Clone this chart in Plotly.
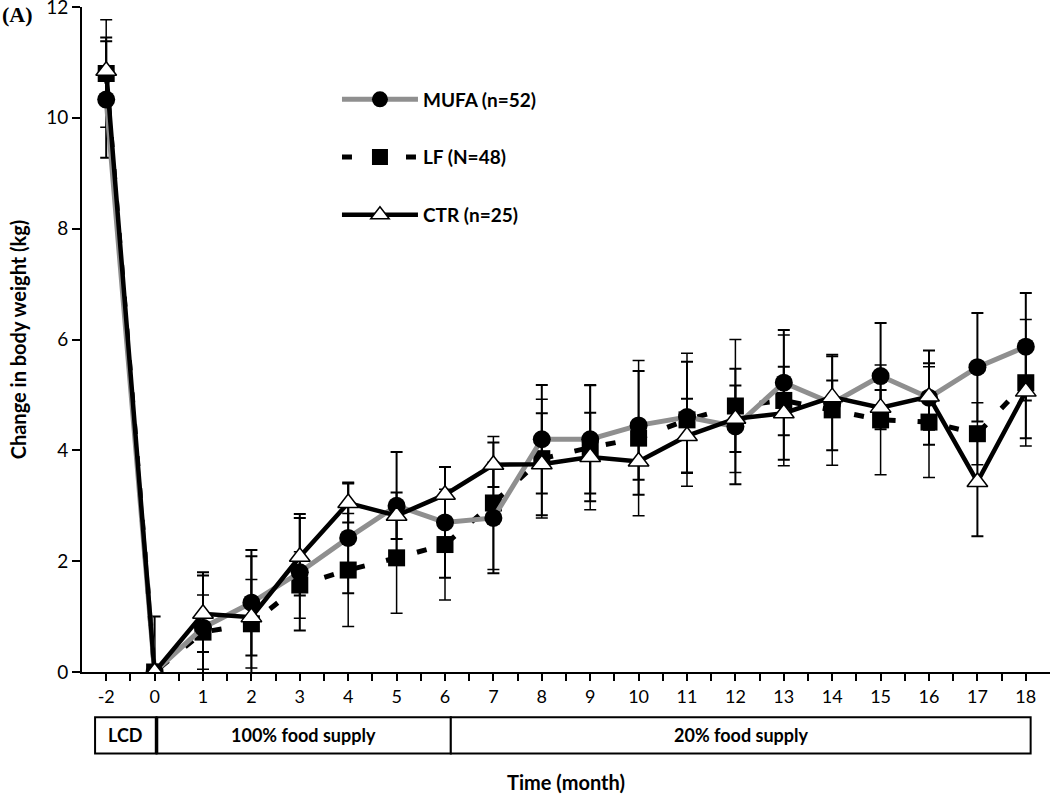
import plotly.graph_objects as go

months = ["-2", "0", "1", "2", "3", "4", "5", "6", "7", "8", "9",
          "10", "11", "12", "13", "14", "15", "16", "17", "18"]

mufa = [10.33, 0, 0.8, 1.25, 1.8, 2.42, 3.0, 2.7, 2.78, 4.2, 4.2,
        4.45, 4.6, 4.43, 5.22, 4.85, 5.34, 4.95, 5.5, 5.87]
mufa_err = [1.05, 1.0, 1.0, 0.95, 1.05, 1.0, 0.97, 1.0, 1.0, 0.98, 0.98,
            0.98, 1.0, 1.04, 0.95, 0.85, 0.96, 0.85, 0.98, 0.97]

lf = [10.8, 0, 0.72, 0.87, 1.57, 1.84, 2.06, 2.3, 3.05, 3.85, 4.05,
      4.22, 4.55, 4.8, 4.9, 4.73, 4.55, 4.51, 4.3, 5.22]
lf_err = [0.97, 0, 0.67, 0.8, 0.6, 1.02, 1.0, 1.0, 1.2, 1.07, 1.12,
          1.4, 1.2, 1.2, 1.18, 1.0, 0.99, 1.0, 0.56, 1.14]

ctr = [10.85, 0, 1.05, 0.99, 2.08, 3.05, 2.82, 3.2, 3.74, 3.75, 3.88,
       3.8, 4.26, 4.57, 4.67, 4.96, 4.77, 4.97, 3.43, 5.06]
ctr_err = [0.6, 0, 0.69, 1.1, 0.7, 0.35, 0.42, 0.5, 0.4, 0.92, 0.8,
           0.6, 0.67, 0.6, 0.84, 0.3, 0.32, 0.6, 0.98, 0.84]

y_ticks = [0, 2, 4, 6, 8, 10, 12]

x = list(range(len(months)))
FONT = "Lato, 'Open Sans', sans-serif"

fig = go.Figure()

fig.add_trace(go.Scatter(
    x=x, y=lf, name="LF (N=48)", mode="lines+markers", legendrank=2,
    legendgroup="lf",
    line=dict(color="black", width=5, dash="10px,22px"),
    marker=dict(symbol="square", size=17, color="black"),
    error_y=dict(type="data", array=lf_err, color="black", thickness=1.5, width=6),
))
fig.add_trace(go.Scatter(
    x=x, y=mufa, name="MUFA (n=52)", mode="lines+markers", legendrank=1,
    legendgroup="mufa",
    line=dict(color="#8f8f8f", width=5),
    marker=dict(symbol="circle", size=18, color="black"),
    error_y=dict(type="data", array=mufa_err, color="black", thickness=2, width=6),
))
fig.add_trace(go.Scatter(
    x=x, y=ctr, name="CTR (n=25)", mode="lines+markers", legendrank=3,
    legendgroup="ctr",
    line=dict(color="black", width=4.5),
    marker=dict(symbol="triangle-up", size=18, color="white",
                line=dict(color="black", width=1.5)),
    error_y=dict(type="data", array=ctr_err, color="black", thickness=2, width=6),
))

# phase boxes under the axis
box_top, box_bot = -0.068, -0.1225
phases = [(-0.23, 1.04, "LCD"), (1.04, 7.12, "100% food supply"),
          (7.12, 19.1, "20% food supply")]
for x0, x1, label in phases:
    fig.add_shape(type="rect", xref="x", yref="paper", x0=x0, x1=x1,
                  y0=box_bot, y1=box_top, line=dict(color="black", width=2),
                  fillcolor="white", layer="above")
    fig.add_annotation(x=(x0 + x1) / 2, y=(box_top + box_bot) / 2, xref="x",
                       yref="paper", xanchor="center", yanchor="middle",
                       text=f"<b>{label}</b>", showarrow=False,
                       font=dict(family=FONT, size=18, color="black"))
fig.add_shape(type="line", xref="x", yref="paper", x0=1.04, x1=1.04,
              y0=box_bot, y1=box_top, line=dict(color="black", width=3.5))

fig.add_annotation(x=0, y=1, xref="paper", yref="paper", xanchor="left",
                   yanchor="top", xshift=-82, yshift=7,
                   text="<b>(A)</b>", showarrow=False,
                   font=dict(family="Liberation Serif, serif", size=22, color="black"))

fig.update_layout(
    width=1050, height=795,
    margin=dict(l=82, r=0, t=7, b=123),
    paper_bgcolor="white", plot_bgcolor="white",
    font=dict(family=FONT, color="black", size=18),
    showlegend=True,
    legend=dict(x=0.2634, y=0.8895, xanchor="left", yanchor="top",
                bgcolor="rgba(0,0,0,0)", tracegroupgap=30, itemwidth=76,
                font=dict(family=FONT, size=19, color="black", weight="bold")),
    xaxis=dict(
        range=[-0.5, 19.5], tickmode="array", tickvals=x, ticktext=months,
        showline=True, linecolor="black", linewidth=2, showgrid=False,
        zeroline=False, ticks="outside", ticklen=7, tickwidth=2,
        tickcolor="black", tickfont=dict(size=18), automargin=False,
        minor=dict(tickmode="array", tickvals=[i + 0.5 for i in x[:-1]],
                   ticks="outside", ticklen=7, tickwidth=2, tickcolor="black"),
        title=dict(text="<b>Time (month)</b>", font=dict(size=20), standoff=70),
    ),
    yaxis=dict(
        range=[0, 12], tickmode="array", tickvals=y_ticks,
        showline=True, linecolor="black", linewidth=2, showgrid=False,
        zeroline=False, ticks="outside", ticklen=8, tickwidth=2,
        tickcolor="black", tickfont=dict(size=19), automargin=False,
        ticklabeloverflow="allow",
        title=dict(text="<b>Change in body weight (kg)</b>", font=dict(size=20),
                   standoff=14),
    ),
)

fig.write_html("out.html",
               config={"displayModeBar": False},
               post_script="document.body.style.margin='0';"
                           "document.body.style.overflow='hidden';")
